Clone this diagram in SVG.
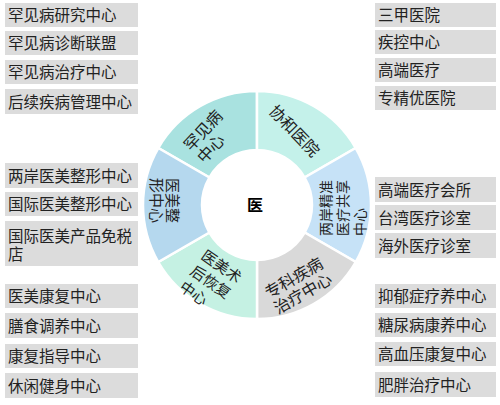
<svg xmlns="http://www.w3.org/2000/svg" width="500" height="405" viewBox="0 0 500 405">
<style>
text{font-family:"Noto Sans CJK SC","Noto Sans",sans-serif;fill:#222}
.box{fill:#dcdcdc}
.lt{font-size:15.5px}
.seg{stroke:#fff;stroke-width:2.5}
</style>
<rect width="500" height="405" fill="#fff"/>
<g id="ring">
<g id="seg-hanjian"><path class="seg" fill="#a9e2e0" d="M158.27,148 A114,114 0 0 1 257,91 L257,150 A55,55 0 0 0 209.37,177.5 Z"/>
<text font-size="16" transform="translate(191,152) rotate(-47)"><tspan x="0" y="0">罕见病</tspan><tspan x="0" y="18">中心</tspan></text></g>
<g id="seg-xiehe"><path class="seg" fill="#c4f1ea" d="M257,91 A114,114 0 0 1 355.73,148 L304.63,177.5 A55,55 0 0 0 257,150 Z"/>
<text font-size="16" transform="translate(268,112) rotate(46)">协和医院</text></g>
<g id="seg-liangan"><path class="seg" fill="#c6e2f7" d="M355.73,148 A114,114 0 0 1 355.73,262 L304.63,232.5 A55,55 0 0 0 304.63,177.5 Z"/>
<text font-size="14" transform="translate(331,236) rotate(-90)"><tspan x="0" y="0">两岸精准</tspan><tspan x="0" y="17">医疗共享</tspan><tspan x="0" y="34">中心</tspan></text></g>
<g id="seg-zhuanke"><path class="seg" fill="#d9d9d9" d="M355.73,262 A114,114 0 0 1 257,319 L257,260 A55,55 0 0 0 304.63,232.5 Z"/>
<text font-size="16" transform="translate(269,299) rotate(-30)"><tspan x="0" y="0">专科疾病</tspan><tspan x="0" y="18">治疗中心</tspan></text></g>
<g id="seg-shuhou"><path class="seg" fill="#c5f1e3" d="M257,319 A114,114 0 0 1 158.27,262 L209.37,232.5 A55,55 0 0 0 257,260 Z"/>
<text font-size="15" transform="translate(200,258) rotate(35)"><tspan x="0" y="0">医美术</tspan><tspan x="0" y="19">后恢复</tspan><tspan x="0" y="38">中心</tspan></text></g>
<g id="seg-zhengxing"><path class="seg" fill="#b5d8ee" d="M158.27,262 A114,114 0 0 1 158.27,148 L209.37,177.5 A55,55 0 0 0 209.37,232.5 Z"/>
<text font-size="15" transform="translate(167,178) rotate(90)"><tspan x="0" y="0">医美整</tspan><tspan x="0" y="16">形中心</tspan></text></g>
<g id="center"><text x="255" y="211" font-size="16" font-weight="bold" text-anchor="middle" style="fill:#000">医</text></g>
</g>
<g id="left-1">
<g id="l1"><rect class="box" x="5" y="3" width="133" height="24"/><text class="lt" x="8" y="21">罕见病研究中心</text></g>
<g id="l2"><rect class="box" x="5" y="31" width="133" height="24"/><text class="lt" x="8" y="49">罕见病诊断联盟</text></g>
<g id="l3"><rect class="box" x="5" y="60" width="133" height="24"/><text class="lt" x="8" y="78">罕见病治疗中心</text></g>
<g id="l4"><rect class="box" x="5" y="89" width="133" height="25"/><text class="lt" x="8" y="107.5">后续疾病管理中心</text></g>
</g>
<g id="left-2">
<g id="l5"><rect class="box" x="5" y="163" width="133" height="25"/><text class="lt" x="8" y="181.5">两岸医美整形中心</text></g>
<g id="l6"><rect class="box" x="5" y="192" width="133" height="24"/><text class="lt" x="8" y="210">国际医美整形中心</text></g>
<g id="l7"><rect class="box" x="5" y="221" width="133" height="45"/><text class="lt"><tspan x="8" y="242">国际医美产品免税</tspan><tspan x="8" y="260">店</tspan></text></g>
</g>
<g id="left-3">
<g id="l8"><rect class="box" x="5" y="284" width="133" height="24"/><text class="lt" x="8" y="302">医美康复中心</text></g>
<g id="l9"><rect class="box" x="5" y="313" width="133" height="25"/><text class="lt" x="8" y="331.5">膳食调养中心</text></g>
<g id="l10"><rect class="box" x="5" y="344" width="133" height="24"/><text class="lt" x="8" y="362">康复指导中心</text></g>
<g id="l11"><rect class="box" x="5" y="373" width="133" height="25"/><text class="lt" x="8" y="391.5">休闲健身中心</text></g>
</g>
<g id="right-1">
<g id="r1"><rect class="box" x="375" y="3" width="121" height="24"/><text class="lt" x="378" y="21">三甲医院</text></g>
<g id="r2"><rect class="box" x="375" y="30" width="121" height="24"/><text class="lt" x="378" y="48">疾控中心</text></g>
<g id="r3"><rect class="box" x="375" y="58" width="121" height="24"/><text class="lt" x="378" y="76">高端医疗</text></g>
<g id="r4"><rect class="box" x="375" y="86" width="121" height="24"/><text class="lt" x="378" y="104">专精优医院</text></g>
</g>
<g id="right-2">
<g id="r5"><rect class="box" x="375" y="177" width="121" height="25"/><text class="lt" x="378" y="195.5">高端医疗会所</text></g>
<g id="r6"><rect class="box" x="375" y="205" width="121" height="25"/><text class="lt" x="378" y="223.5">台湾医疗诊室</text></g>
<g id="r7"><rect class="box" x="375" y="233" width="121" height="25"/><text class="lt" x="378" y="251.5">海外医疗诊室</text></g>
</g>
<g id="right-3">
<g id="r8"><rect class="box" x="375" y="284" width="121" height="24"/><text class="lt" x="378" y="302">抑郁症疗养中心</text></g>
<g id="r9"><rect class="box" x="375" y="313" width="121" height="24"/><text class="lt" x="378" y="331">糖尿病康养中心</text></g>
<g id="r10"><rect class="box" x="375" y="342" width="121" height="24"/><text class="lt" x="378" y="360">高血压康复中心</text></g>
<g id="r11"><rect class="box" x="375" y="372" width="121" height="25"/><text class="lt" x="378" y="390.5">肥胖治疗中心</text></g>
</g>
</svg>
